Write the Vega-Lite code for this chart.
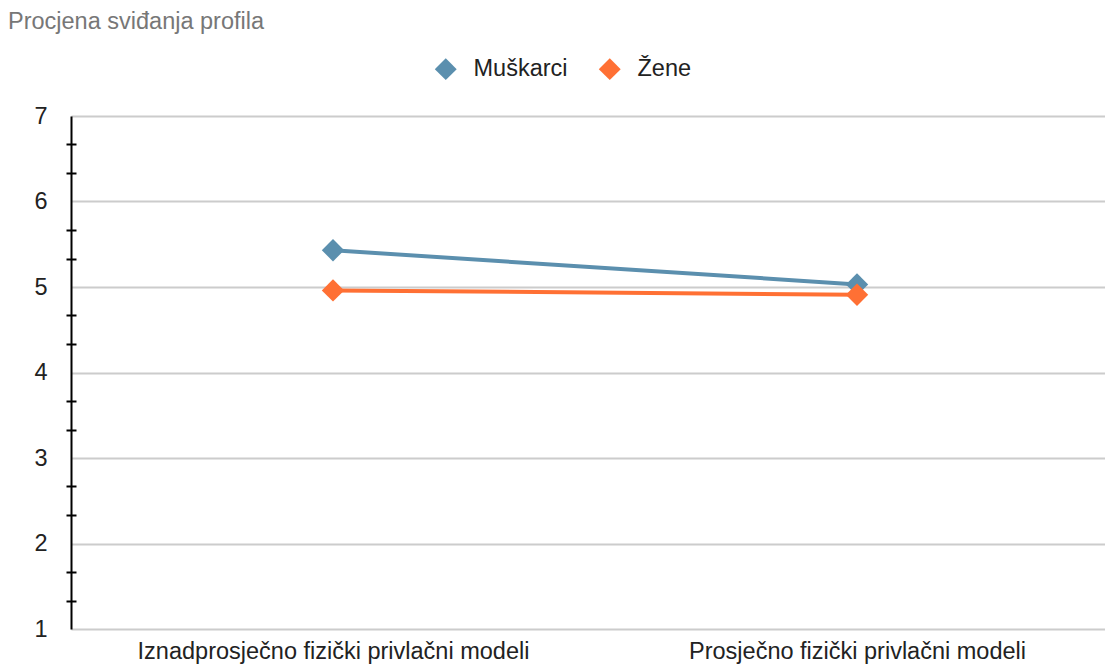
{
  "$schema": "https://vega.github.io/schema/vega-lite/v6.json",
  "autosize": "none",
  "width": 1048,
  "height": 513,
  "padding": {"left": 71, "top": 116, "right": 0, "bottom": 36},
  "background": "white",
  "config": {
    "view": {"stroke": null},
    "font": "Liberation Sans"
  },
  "title": {
    "text": "Procjena sviđanja profila",
    "anchor": "start",
    "frame": "group",
    "orient": "top",
    "dx": -63,
    "offset": 24,
    "fontSize": 23.5,
    "font": "Liberation Sans",
    "fontWeight": "normal",
    "color": "#777777"
  },
  "data": {
    "values": [
      {"kategorija": "Iznadprosječno fizički privlačni modeli", "spol": "Muškarci", "vrijednost": 5.43},
      {"kategorija": "Prosječno fizički privlačni modeli", "spol": "Muškarci", "vrijednost": 5.03},
      {"kategorija": "Iznadprosječno fizički privlačni modeli", "spol": "Žene", "vrijednost": 4.96},
      {"kategorija": "Prosječno fizički privlačni modeli", "spol": "Žene", "vrijednost": 4.91}
    ]
  },
  "resolve": {"axis": {"y": "independent"}},
  "layer": [
    {
      "mark": {"type": "line", "strokeWidth": 4},
      "encoding": {
        "x": {
          "field": "kategorija",
          "type": "nominal",
          "sort": null,
          "scale": {"paddingInner": 0, "paddingOuter": 0.5},
          "axis": {
            "title": null,
            "labelAngle": 0,
            "ticks": false,
            "domain": false,
            "labelFontSize": 23.5,
            "labelColor": "#222222",
            "labelPadding": 10,
            "labelLimit": 0,
            "labelFont": "Liberation Sans"
          }
        },
        "y": {
          "field": "vrijednost",
          "type": "quantitative",
          "scale": {"domain": [1, 7], "nice": false, "zero": false},
          "axis": {
            "title": null,
            "orient": "left",
            "values": [1, 2, 3, 4, 5, 6, 7],
            "ticks": false,
            "domain": true,
            "domainColor": "#000000",
            "domainWidth": 2,
            "grid": true,
            "gridColor": "#cccccc",
            "gridWidth": 2,
            "labelFontSize": 23.5,
            "labelColor": "#222222",
            "labelPadding": 24,
            "labelFont": "Liberation Sans"
          }
        },
        "color": {
          "field": "spol",
          "type": "nominal",
          "scale": {"domain": ["Muškarci", "Žene"], "range": ["#5b8fae", "#ff7034"]}
        }
      }
    },
    {
      "mark": {"type": "point", "shape": "diamond", "filled": true, "size": 500, "opacity": 1},
      "encoding": {
        "x": {"field": "kategorija", "type": "nominal", "sort": null},
        "y": {
          "field": "vrijednost",
          "type": "quantitative",
          "axis": {
            "title": null,
            "orient": "left",
            "offset": -5,
            "values": [1.333, 1.667, 2.333, 2.667, 3.333, 3.667, 4.333, 4.667, 5.333, 5.667, 6.333, 6.667],
            "ticks": true,
            "tickSize": 10,
            "tickWidth": 2,
            "tickColor": "#000000",
            "domain": false,
            "grid": false,
            "labels": false
          }
        },
        "color": {
          "field": "spol",
          "type": "nominal",
          "scale": {"domain": ["Muškarci", "Žene"], "range": ["#5b8fae", "#ff7034"]},
          "legend": {
            "title": null,
            "orient": "none",
            "direction": "horizontal",
            "legendX": 363,
            "legendY": -59,
            "symbolType": "diamond",
            "symbolSize": 480,
            "symbolOpacity": 1,
            "symbolStrokeWidth": 0,
            "labelFontSize": 23.5,
            "labelColor": "#222222",
            "labelFont": "Liberation Sans",
            "labelOffset": 16,
            "columnPadding": 30
          }
        }
      }
    }
  ]
}
